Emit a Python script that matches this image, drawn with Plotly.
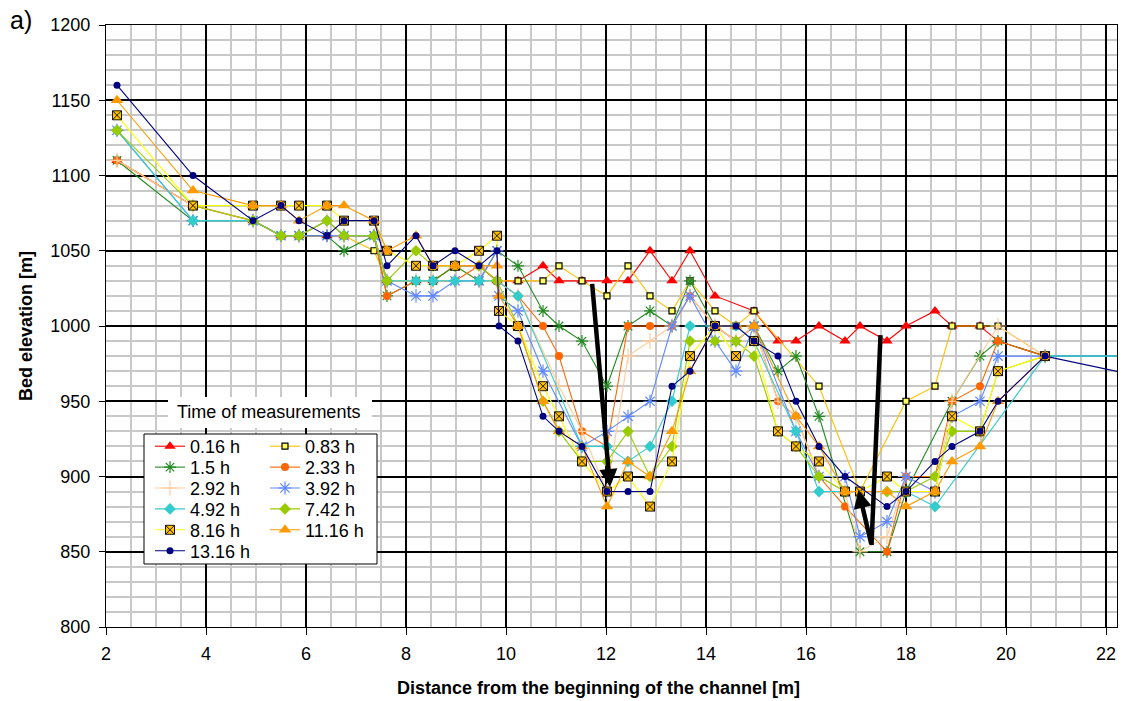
import plotly.graph_objects as go

# Measuring stations along the channel [m]
STATIONS = [2.22, 3.74, 4.94, 5.50, 5.86, 6.42, 6.76, 7.36, 7.62, 8.20,
            8.54, 8.98, 9.46, 9.82, 9.86, 10.24, 10.74, 11.06, 11.52, 12.02,
            12.44, 12.88, 13.32, 13.68, 14.18, 14.60, 14.96, 15.44, 15.80, 16.26,
            16.78, 17.08, 17.62, 18.00, 18.58, 18.92, 19.48, 19.84, 20.78, 23.20]

TIMES = ["0.16 h", "0.83 h", "1.5 h", "2.33 h", "2.92 h", "3.92 h",
         "4.92 h", "7.42 h", "8.16 h", "11.16 h", "13.16 h"]

N = None
# Bed elevation [m] at each station (None = not measured)
BED_0_16 = [1110, 1080, 1070, 1060, 1060, 1060, 1060, 1060, 1030, 1030,
            1030, 1040, 1040, 1030, N, 1030, 1040, 1030, 1030, 1030,
            1030, 1050, 1030, 1050, 1020, N, 1010, 990, 990, 1000,
            990, 1000, 990, 1000, 1010, 1000, 1000, 990, 980, N]
BED_0_83 = [1110, 1080, 1070, 1060, 1060, 1060, 1060, 1050, 1030, 1030,
            1030, 1040, 1030, 1030, N, 1030, 1030, 1040, 1030, 1020,
            1040, 1020, 1010, 1030, 1010, 1000, 1010, N, N, 960,
            N, 890, N, 950, 960, 1000, 1000, 1000, 980, N]
BED_1_5 = [1110, 1070, 1070, 1060, 1060, 1060, 1050, 1060, 1020, 1030,
           1030, 1040, 1030, 1050, N, 1040, 1010, 1000, 990, 960,
           1000, 1010, 1000, 1030, 1000, 990, 1000, 970, 980, 940,
           N, 850, 850, 890, N, 950, 980, 990, 980, 980]
BED_2_33 = [1110, 1080, 1070, 1060, 1060, 1070, 1060, 1060, 1020, 1030,
            1030, 1030, 1040, 1030, N, 1020, 1000, 980, 930, 920,
            1000, 1000, 1000, 1020, 1000, 990, 1000, 950, 940, 900,
            880, N, 850, 900, 900, 950, 960, 990, 980, N]
BED_2_92 = [1110, 1080, 1070, 1060, 1060, 1070, 1060, 1060, 1030, 1030,
            1030, 1030, 1030, 1030, N, 1020, N, 960, 930, 890,
            980, 990, 1000, 1020, 1000, 990, 1000, 950, 940, 900,
            890, 850, 860, 900, 890, 950, N, 1000, 980, N]
BED_3_92 = [1130, 1070, 1070, 1060, 1060, 1060, 1060, 1060, 1030, 1020,
            1020, 1030, 1030, 1050, 1020, 1010, 970, N, 920, 930,
            940, 950, 1000, 1020, 990, 970, 1000, N, 930, 900,
            900, 860, 870, 900, 890, 940, 950, 980, 980, 980]
BED_4_92 = [1130, 1070, 1070, 1060, 1060, 1070, 1060, 1060, 1030, 1030,
            1030, 1030, 1030, 1030, N, 1020, N, N, 920, 920,
            910, 920, 950, 1000, 1000, 1000, 990, N, 930, 890,
            890, N, N, 890, 880, N, N, N, 980, 980]
BED_7_42 = [1130, 1080, 1070, 1060, 1060, 1070, 1060, 1060, 1030, 1050,
            1040, 1040, 1040, 1030, N, 1000, 950, 930, 910, 910,
            930, 900, 920, 990, 990, 990, 980, 930, 920, 900,
            890, N, 890, 890, 900, 930, 930, 970, 980, N]
BED_8_16 = [1140, 1080, 1080, 1080, 1080, 1080, 1070, 1070, 1050, 1040,
            1040, 1040, 1050, 1060, 1010, 1000, 960, 940, 910, 890,
            900, 880, 910, 980, 1000, 980, 990, 930, 920, 910,
            890, 890, 900, 890, 890, 940, 930, 970, 980, N]
BED_11_16 = [1150, 1090, 1080, 1080, 1070, 1080, 1080, 1070, 1050, 1060,
             1040, 1040, 1040, 1040, 1020, 1000, 950, 930, 920, 880,
             910, 900, 930, 970, 1000, 1000, 1000, N, 940, 920,
             890, N, 890, 880, 890, 910, 920, 950, 980, N]
BED_13_16 = [1160, 1100, 1070, 1080, 1070, 1060, 1070, 1070, 1040, 1060,
             1040, 1050, 1040, 1050, 1000, 990, 940, 930, 920, 890,
             890, 890, 960, 970, 1000, 1000, 990, 980, 950, 920,
             900, N, 880, 890, 910, 920, 930, 950, 980, 963]

SERIES = [BED_0_16, BED_0_83, BED_1_5, BED_2_33, BED_2_92, BED_3_92,
          BED_4_92, BED_7_42, BED_8_16, BED_11_16, BED_13_16]

# Erosion arrows: (tail x, tail y) -> (head x, head y)
ARROW_1 = (11.72, 1029, 12.08, 893)
ARROW_2_STEM = (17.49, 994, 17.31, 854.5)
ARROW_2_HEAD = (17.31, 854.5, 17.05, 891)

STYLES = [
    dict(line="#FF0000", symbol="triangle-up", size=10, fill="#FF0000", edge=None, ew=0),
    dict(line="#FFC000", symbol="square", size=6, fill="#FFFF66", edge="#000000", ew=1.2),
    dict(line="#228B22", symbol="asterisk-open", size=10, fill="#228B22", edge="#228B22", ew=1.2),
    dict(line="#FF6600", symbol="circle", size=8, fill="#FF6600", edge=None, ew=0),
    dict(line="#FFCC99", symbol="cross-thin-open", size=11, fill="#FFCC99", edge="#FFCC99", ew=1.2),
    dict(line="#5F87FF", symbol="asterisk-open", size=11, fill="#5F87FF", edge="#5F87FF", ew=1.2),
    dict(line="#33CCCC", symbol="diamond", size=9, fill="#33CCCC", edge=None, ew=0),
    dict(line="#99CC00", symbol="diamond", size=9, fill="#99CC00", edge=None, ew=0),
    dict(line="#FFFF00", symbol="square-x", size=9, fill="#FFC000", edge="#000000", ew=0.9),
    dict(line="#FF9900", symbol="triangle-up", size=11, fill="#FF9900", edge=None, ew=0),
    dict(line="#000080", symbol="circle", size=7, fill="#000080", edge=None, ew=0),
]

FONT = "Liberation Sans, Arial, Helvetica, sans-serif"

fig = go.Figure()

# plot-area geometry in pixels (used to place the legend rows)
W, H = 1127, 701
ML, MR, MT, MB = 106, 10, 25, 74
PW, PH = W - ML - MR, H - MT - MB


def px_to_paper_x(px):
    return (px - ML) / PW


def px_to_paper_y(py):
    return (H - MB - py) / PH


for i, (name, vals, st) in enumerate(zip(TIMES, SERIES, STYLES)):
    row = i // 2
    legend_id = "legend" if row == 0 else f"legend{row + 1}"
    marker = dict(symbol=st["symbol"], size=st["size"], color=st["fill"],
                  line=dict(color=st["edge"] or st["fill"], width=st["ew"]))
    fig.add_trace(go.Scatter(
        x=STATIONS, y=vals, name=name, mode="lines+markers",
        connectgaps=True, line=dict(color=st["line"], width=1.1),
        marker=marker, legend=legend_id,
    ))

# two-column legend: one horizontal legend per row
row_centers = [446.5 + 20.9 * r for r in range(6)]
legend_layouts = {}
for r, yc in enumerate(row_centers):
    key = "legend" if r == 0 else f"legend{r + 1}"
    legend_layouts[key] = dict(
        orientation="h", x=px_to_paper_x(150), xanchor="left",
        y=px_to_paper_y(yc), yanchor="middle",
        entrywidth=70, entrywidthmode="pixels",
        bgcolor="rgba(0,0,0,0)", borderwidth=0,
        font=dict(family=FONT, size=18, color="#000000"),
        traceorder="normal",
    )

fig.update_layout(
    width=W, height=H,
    margin=dict(l=ML, r=MR, t=MT, b=MB, autoexpand=False),
    paper_bgcolor="white", plot_bgcolor="white",
    font=dict(family=FONT, size=18, color="#000000"),
    showlegend=True,
    **legend_layouts,
)

fig.update_xaxes(
    range=[2, 22.22], tick0=2, dtick=2, showgrid=True,
    gridcolor="#000000", gridwidth=1.6, zeroline=False,
    showline=True, linecolor="#000000", linewidth=1.2, mirror=True,
    ticks="outside", ticklen=7, tickcolor="#000000", ticklabelstandoff=3,
    tickfont=dict(family=FONT, size=18),
    minor=dict(tick0=2, dtick=0.5, showgrid=True, gridcolor="#c8c8c8", gridwidth=1.8),
)
fig.update_yaxes(
    range=[800, 1200], tick0=800, dtick=50, showgrid=True,
    gridcolor="#000000", gridwidth=1.6, zeroline=False,
    showline=True, linecolor="#000000", linewidth=1.2, mirror=True,
    ticks="outside", ticklen=6, tickcolor="#000000", ticklabelstandoff=5,
    tickfont=dict(family=FONT, size=18),
    minor=dict(tick0=800, dtick=10, showgrid=True, gridcolor="#c8c8c8", gridwidth=1.8),
    title=dict(text="Bed elevation [m]",
               font=dict(family=FONT, size=18, weight="bold"), standoff=12),
)

# x-axis title, centred on the whole chart area
fig.add_annotation(text="<b>Distance from the beginning of the channel [m]</b>",
                   xref="paper", yref="paper",
                   x=px_to_paper_x(598), y=px_to_paper_y(688),
                   xanchor="center", yanchor="middle", showarrow=False,
                   font=dict(family=FONT, size=18, color="#000000"))

# legend frame and title backdrop
fig.add_shape(type="rect", xref="paper", yref="paper",
              x0=px_to_paper_x(144), x1=px_to_paper_x(377),
              y0=px_to_paper_y(564), y1=px_to_paper_y(434),
              fillcolor="white", line=dict(color="#000000", width=1), layer="above")
fig.add_shape(type="rect", xref="paper", yref="paper",
              x0=px_to_paper_x(168), x1=px_to_paper_x(372),
              y0=px_to_paper_y(428), y1=px_to_paper_y(397),
              fillcolor="white", line=dict(width=0), layer="above")
fig.add_annotation(text="Time of measurements", xref="paper", yref="paper",
                   x=px_to_paper_x(268), y=px_to_paper_y(412),
                   xanchor="center", yanchor="middle", showarrow=False,
                   font=dict(family=FONT, size=18, color="#000000"))

# panel label
fig.add_annotation(text="a)", xref="paper", yref="paper",
                   x=px_to_paper_x(8), y=px_to_paper_y(20),
                   xanchor="left", yanchor="middle", showarrow=False,
                   font=dict(family=FONT, size=25, color="#000000"))

# erosion arrows
ax0, ay0, ax1, ay1 = ARROW_1
fig.add_annotation(x=ax1, y=ay1, ax=ax0, ay=ay0, xref="x", yref="y",
                   axref="x", ayref="y", text="", showarrow=True,
                   arrowhead=2, arrowsize=0.8, arrowwidth=4.5,
                   arrowcolor="#000000", standoff=0, startstandoff=0)
sx0, sy0, sx1, sy1 = ARROW_2_STEM
fig.add_shape(type="line", xref="x", yref="y", x0=sx0, y0=sy0, x1=sx1, y1=sy1,
              line=dict(color="#000000", width=4.5), layer="above")
hx0, hy0, hx1, hy1 = ARROW_2_HEAD
fig.add_annotation(x=hx1, y=hy1, ax=hx0, ay=hy0, xref="x", yref="y",
                   axref="x", ayref="y", text="", showarrow=True,
                   arrowhead=2, arrowsize=0.8, arrowwidth=4.5,
                   arrowcolor="#000000", standoff=0, startstandoff=0)

fig.write_html("out.html")
